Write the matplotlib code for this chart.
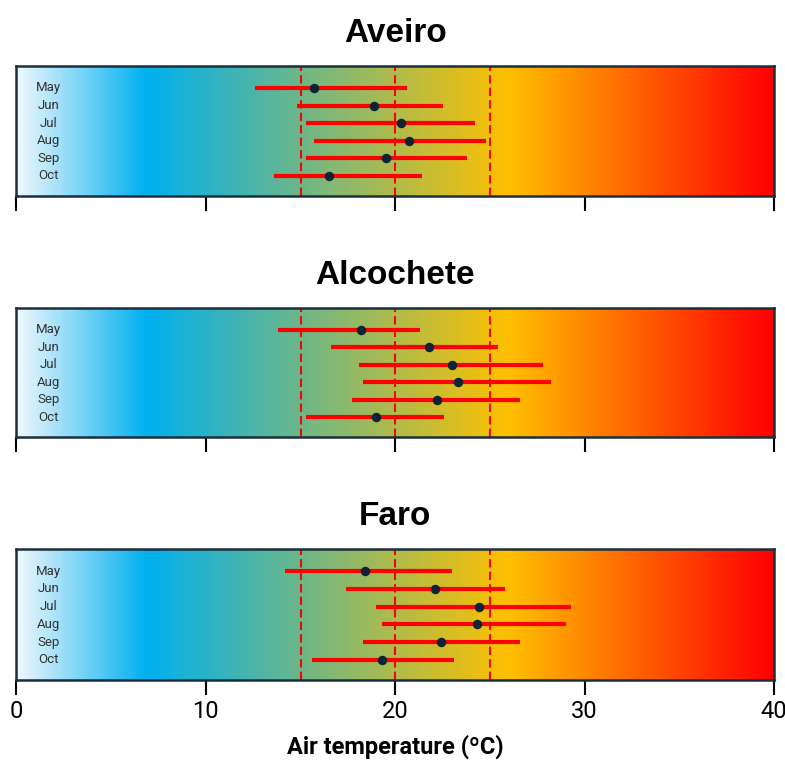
import matplotlib.pyplot as plt
import numpy as np
from matplotlib.colors import LinearSegmentedColormap

# data (air temperature, ºC)
months = ["May", "Jun", "Jul", "Aug", "Sep", "Oct"]
sites = ["Aveiro", "Alcochete", "Faro"]

aveiro_mean = [15.7, 18.9, 20.3, 20.7, 19.5, 16.5]
aveiro_min = [12.6, 14.8, 15.3, 15.7, 15.3, 13.6]
aveiro_max = [20.6, 22.5, 24.2, 24.8, 23.8, 21.4]

alcochete_mean = [18.2, 21.8, 23.0, 23.3, 22.2, 19.0]
alcochete_min = [13.8, 16.6, 18.1, 18.3, 17.7, 15.3]
alcochete_max = [21.3, 25.4, 27.8, 28.2, 26.6, 22.6]

faro_mean = [18.4, 22.1, 24.4, 24.3, 22.4, 19.3]
faro_min = [14.2, 17.4, 19.0, 19.3, 18.3, 15.6]
faro_max = [23.0, 25.8, 29.3, 29.0, 26.6, 23.1]

thresholds = [15, 20, 25]
xticks = [0, 10, 20, 30, 40]

means = [aveiro_mean, alcochete_mean, faro_mean]
lows = [aveiro_min, alcochete_min, faro_min]
highs = [aveiro_max, alcochete_max, faro_max]

cmap = LinearSegmentedColormap.from_list(
    "temp", [(0.0, "#EEF7FD"), (0.17, "#00B0F0"), (0.65, "#FFC000"), (1.0, "#FF0000")])

fig = plt.figure(figsize=(7.85, 7.62), dpi=100)
boxes = [(0.7428, 0.1706), (0.4265, 0.1693), (0.1076, 0.1719)]

y = np.arange(len(months))
ylim = (len(months) - 1 + 1.14, -1.25)

for i, site in enumerate(sites):
    ax = fig.add_axes([0.021, boxes[i][0], 0.965, boxes[i][1]])
    grad = np.linspace(0, 1, 400).reshape(1, -1)
    ax.imshow(grad, cmap=cmap, aspect="auto", extent=[0, 40, ylim[0], ylim[1]],
              origin="upper", zorder=0)
    for t in thresholds:
        ax.axvline(t, color="red", lw=1.5, ls=(0, (4, 2)), zorder=1)
    ax.hlines(y, lows[i], highs[i], color="red", lw=3, zorder=2)
    ax.plot(means[i], y, "o", color="#0B2535", ms=5.8, zorder=3)
    for yy, m in zip(y, months):
        ax.text(1.7, yy, m, ha="center", va="center", fontsize=9.5, color="#333333",
                family="Roboto")
    ax.set_xlim(0, 40)
    ax.set_ylim(*ylim)
    ax.set_yticks([])
    ax.set_xticks(xticks)
    ax.tick_params(axis="x", length=11, width=1.5, color="black", direction="out")
    for s in ax.spines.values():
        s.set_color("#1B2F3A")
        s.set_linewidth(1.8)
    ax.set_title(site, fontsize=24, fontweight="bold", family="Liberation Sans", pad=17)
    if i < 2:
        ax.set_xticklabels([])
    else:
        ax.set_xticklabels([str(v) for v in xticks], fontsize=17, family="Roboto")
        ax.set_xlabel("Air temperature (ºC)", fontsize=17, fontweight="bold",
                      family="Roboto", labelpad=8)

fig.savefig("out.png", dpi=100)
